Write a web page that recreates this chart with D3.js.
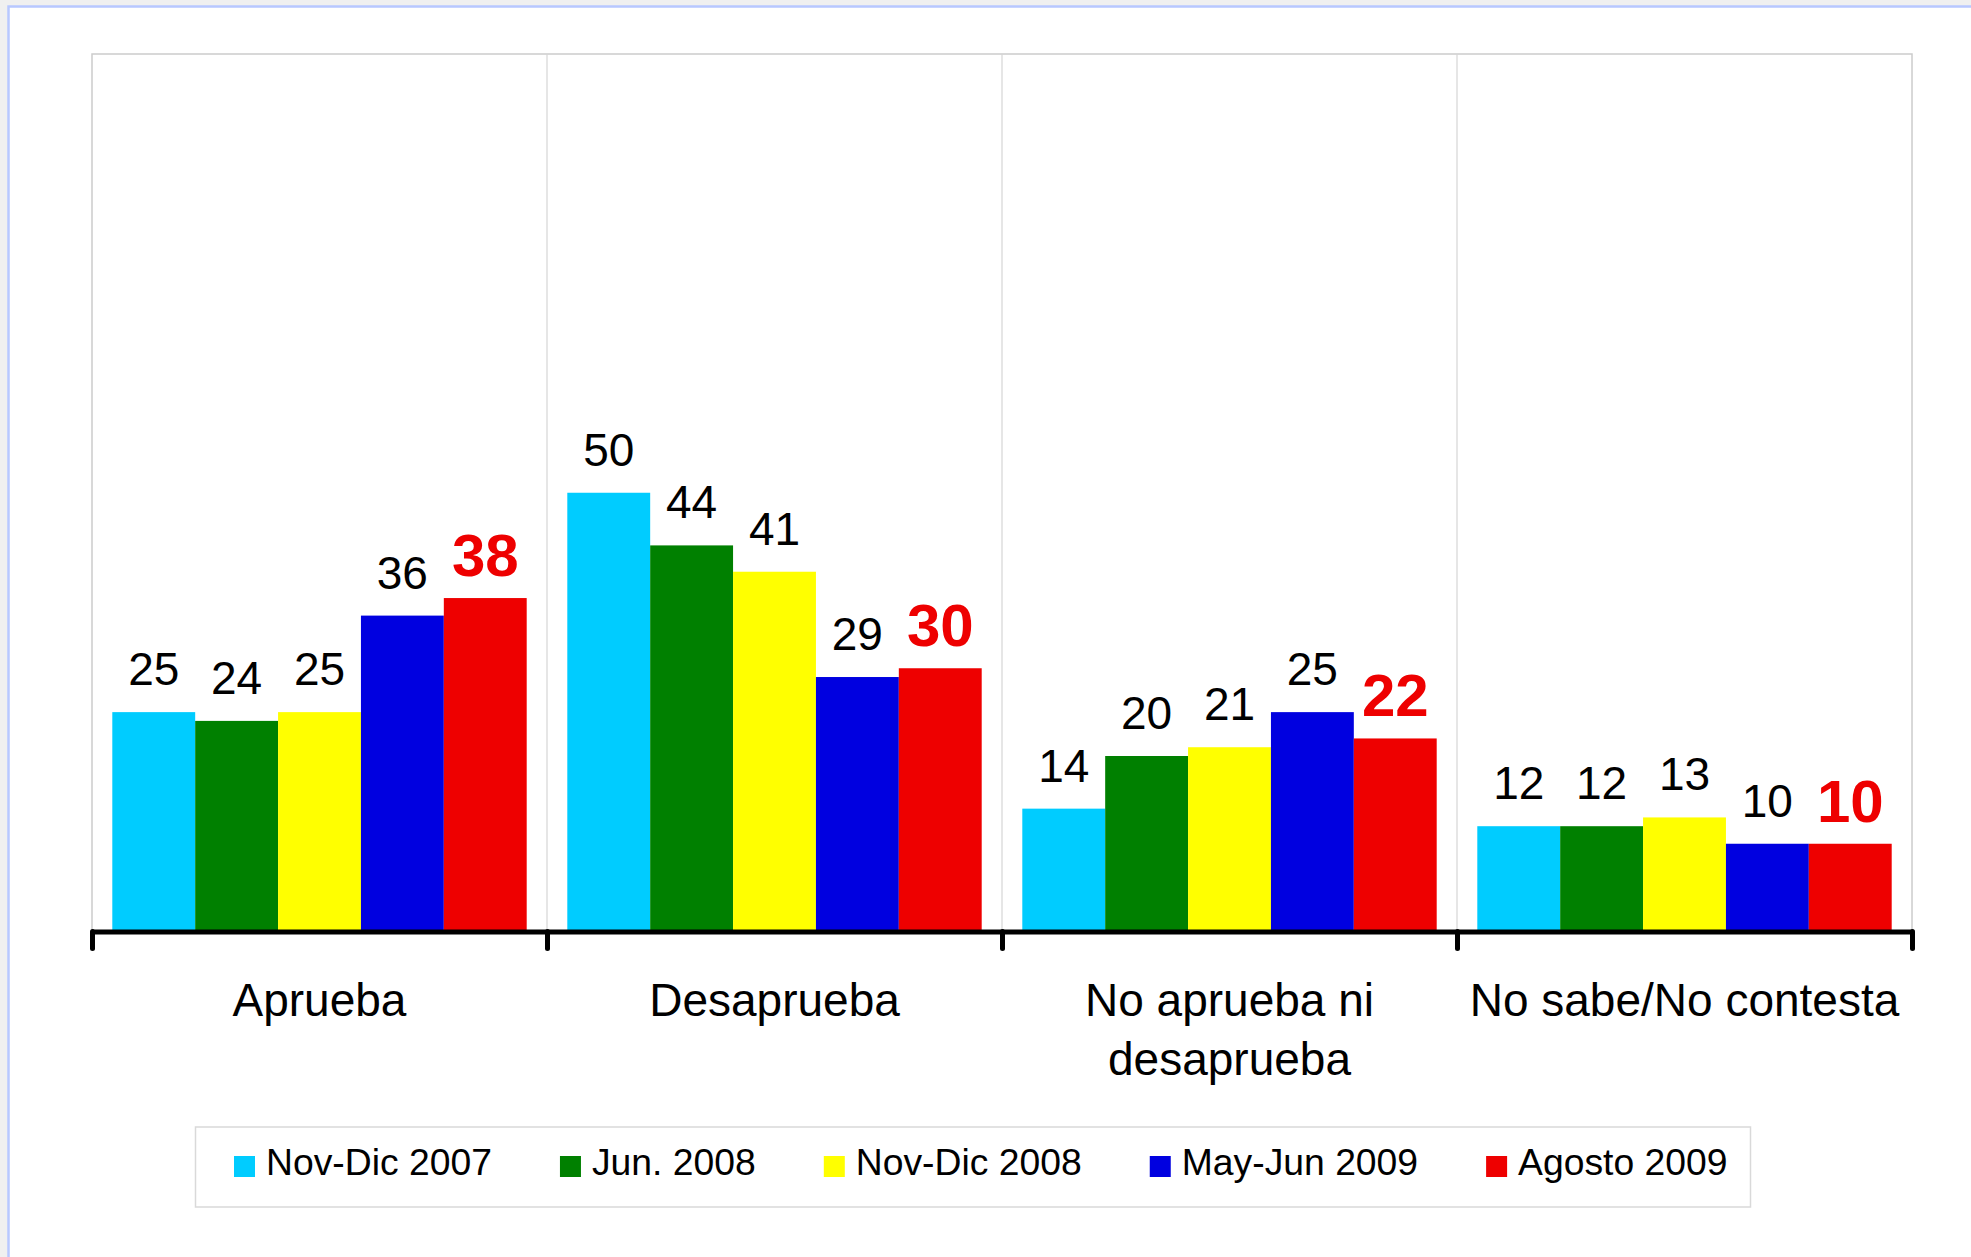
<!DOCTYPE html>
<html>
<head>
<meta charset="utf-8">
<script src="https://cdn.jsdelivr.net/npm/d3@7"></script>
<style>
  body { margin: 0; background: #f0f0f0; }
  svg { display: block; font-family: "Liberation Sans", Arial, sans-serif; }
</style>
</head>
<body>
<svg id="chart" width="1971" height="1257"></svg>
<script>
// data
var categories = [["Aprueba"], ["Desaprueba"], ["No aprueba ni", "desaprueba"], ["No sabe/No contesta"]];
var series = ["Nov-Dic 2007", "Jun. 2008", "Nov-Dic 2008", "May-Jun 2009", "Agosto 2009"];
var colors = ["#00ccff", "#008000", "#ffff00", "#0000e0", "#ee0000"];
var novDic2007 = [25, 50, 14, 12];
var jun2008 = [24, 44, 20, 12];
var novDic2008 = [25, 41, 21, 13];
var mayJun2009 = [36, 29, 25, 10];
var agosto2009 = [38, 30, 22, 10];
var yMax = 100;

var values = [novDic2007, jun2008, novDic2008, mayJun2009, agosto2009];
var catKeys = categories.map(function(c) { return c.join(" "); });

var svg = d3.select("#chart");

// outer frame
svg.append("rect")
  .attr("x", 8.5).attr("y", 6.5)
  .attr("width", 2000).attr("height", 1300)
  .style("fill", "#fff")
  .style("stroke", "#b8c8ff")
  .style("stroke-width", 2.5);

var plotLeft = 92, plotRight = 1912, plotTop = 54, base = 931.5;

var x0 = d3.scaleBand().domain(catKeys).range([plotLeft, plotRight]).padding(0);
var x1 = d3.scaleBand().domain(d3.range(series.length))
  .range([20.3, x0.bandwidth() - 20.3]).padding(0);
var y = d3.scaleLinear().domain([0, yMax]).range([base, plotTop]);

// plot area
svg.append("rect")
  .attr("x", plotLeft).attr("y", plotTop)
  .attr("width", plotRight - plotLeft).attr("height", base - plotTop)
  .style("fill", "#fff")
  .style("stroke", "#cccccc")
  .style("stroke-width", 1.5);

// vertical category grid lines
svg.selectAll(".grid").data(catKeys.slice(1))
  .enter().append("line")
  .attr("x1", function(d) { return x0(d); })
  .attr("x2", function(d) { return x0(d); })
  .attr("y1", plotTop).attr("y2", base)
  .style("stroke", "#d6d6d6")
  .style("stroke-width", 1.2);

// bars
var groups = svg.selectAll(".grp").data(catKeys)
  .enter().append("g")
  .attr("transform", function(d) { return "translate(" + x0(d) + ",0)"; });

groups.selectAll("rect")
  .data(function(d, ci) {
    return series.map(function(s, si) { return { si: si, v: values[si][ci] }; });
  })
  .enter().append("rect")
  .attr("x", function(d) { return x1(d.si); })
  .attr("width", x1.bandwidth())
  .attr("y", function(d) { return y(d.v); })
  .attr("height", function(d) { return base - y(d.v); })
  .style("fill", function(d) { return colors[d.si]; });

// value labels, last survey in bold red
groups.selectAll("text")
  .data(function(d, ci) {
    return series.map(function(s, si) { return { si: si, v: values[si][ci] }; });
  })
  .enter().append("text")
  .attr("x", function(d) { return x1(d.si) + x1.bandwidth() / 2; })
  .attr("y", function(d) { return y(d.v) - (d.si == 4 ? 22 : 27); })
  .attr("text-anchor", "middle")
  .style("font-size", function(d) { return d.si == 4 ? "60px" : "46px"; })
  .style("font-weight", function(d) { return d.si == 4 ? "bold" : "normal"; })
  .style("fill", function(d) { return d.si == 4 ? "#ee0000" : "#000"; })
  .text(function(d) { return d.v; });

// axis with ticks at category boundaries
var tickScale = d3.scaleLinear().domain([0, categories.length]).range([plotLeft, plotRight]);
var axis = d3.axisBottom(tickScale)
  .ticks(categories.length)
  .tickSize(17)
  .tickSizeOuter(0)
  .tickFormat("");
var axisG = svg.append("g")
  .attr("transform", "translate(0," + base + ")")
  .call(axis);
axisG.select(".domain")
  .style("stroke", "#000")
  .style("stroke-width", 5);
axisG.selectAll(".tick line")
  .style("stroke", "#000")
  .style("stroke-width", 5)
  .style("stroke-linecap", "round");

// category labels
var catLabels = svg.selectAll(".cat").data(categories)
  .enter().append("text")
  .attr("x", function(d, i) { return x0(catKeys[i]) + x0.bandwidth() / 2; })
  .attr("y", 1016)
  .attr("text-anchor", "middle")
  .style("font-size", "46px")
  .style("fill", "#000");
catLabels.selectAll("tspan")
  .data(function(d) { return d; })
  .enter().append("tspan")
  .attr("x", function() { return d3.select(this.parentNode).attr("x"); })
  .attr("dy", function(d, i) { return i == 0 ? 0 : 59; })
  .text(function(d) { return d; });

// legend
var lg = svg.append("g");
lg.append("rect")
  .attr("x", 195.5).attr("y", 1127)
  .attr("width", 1555).attr("height", 80)
  .style("fill", "#fff")
  .style("stroke", "#d9d9d9")
  .style("stroke-width", 1.5);

var lx = 234;
series.forEach(function(s, i) {
  lg.append("rect")
    .attr("x", lx).attr("y", 1156)
    .attr("width", 21).attr("height", 21)
    .style("fill", colors[i]);
  var t = lg.append("text")
    .attr("x", lx + 32).attr("y", 1175)
    .style("font-size", "37.3px")
    .style("fill", "#000")
    .text(s);
  lx = lx + 32 + t.node().getComputedTextLength() + 68;
});
</script>
</body>
</html>
